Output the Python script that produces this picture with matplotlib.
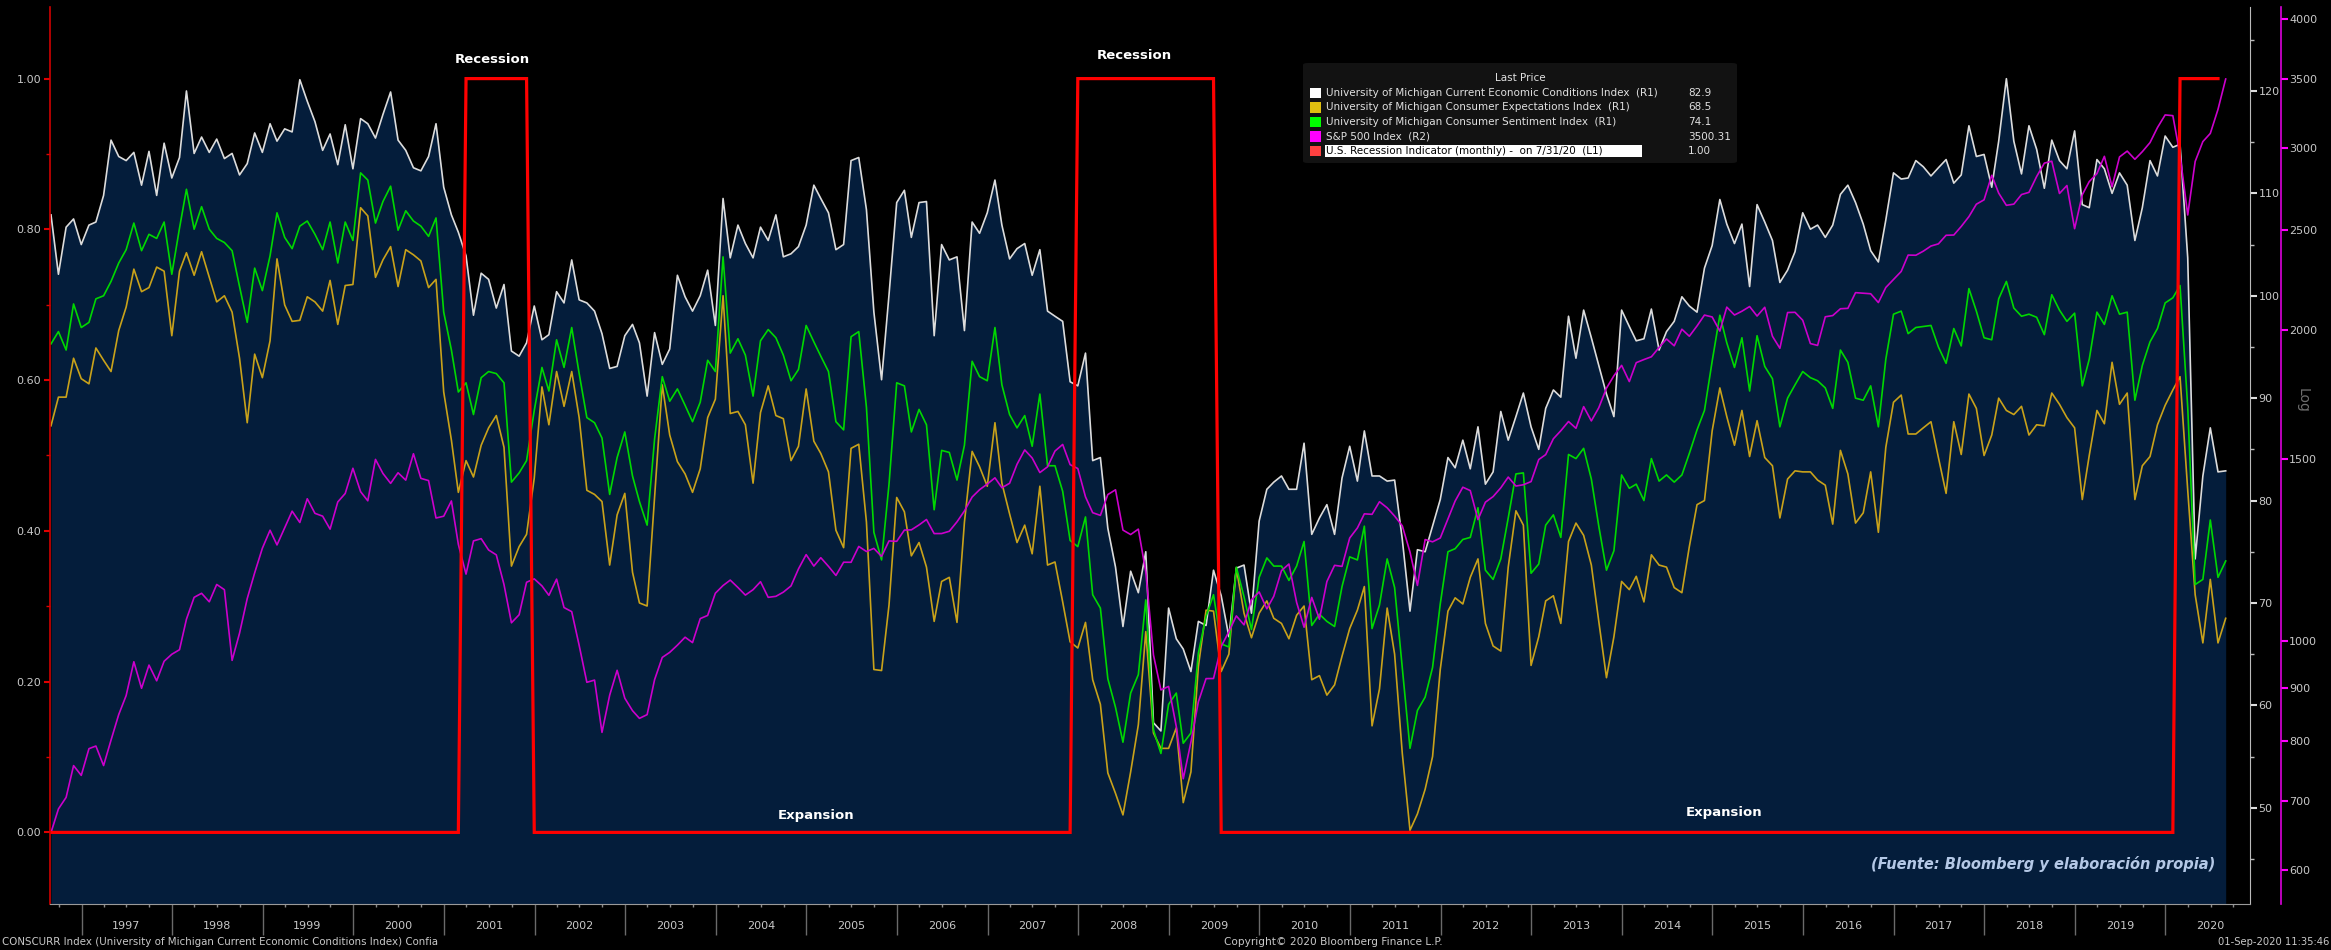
#Grafico: Indices de la Universidad de Michigan vs S&P 500 y recesiones en EEUU
#Datos mensuales (fin de mes) leidos del grafico de Bloomberg

#1. LIBRERIAS

import pandas as pd
import numpy as np
import matplotlib
matplotlib.use('Agg')
import matplotlib.pyplot as plt
import matplotlib.dates as mdates
from matplotlib.ticker import FixedLocator, FuncFormatter, NullFormatter, MultipleLocator
from matplotlib.patches import Rectangle, FancyBboxPatch

#2. DATOS

inicio = '1996-08-31'   #primer dato mensual
n_meses = 289           #hasta 2020-08-31

#University of Michigan Current Economic Conditions Index (R1) - blanco
cond_actuales = [
    107.9, 102.1, 106.7, 107.5, 105.0, 106.9, 107.2, 109.8, 115.2, 113.6, 113.2, 114.0, 110.8, 114.1, 109.8,
    114.9, 111.5, 113.5, 120.0, 113.9, 115.5, 114.0, 115.3, 113.4, 113.9, 111.8, 112.9, 115.9, 114.0, 116.8,
    115.1, 116.3, 116.0, 121.1, 119.0, 117.0, 114.2,
    115.8, 112.8, 116.7, 112.4, 117.3, 116.8, 115.4, 117.7, 119.9, 115.2, 114.2, 112.5, 112.2, 113.6, 116.8,
    110.6, 107.9, 106.2, 103.9, 98.1, 102.2, 101.6, 98.8, 101.1, 94.6, 94.1, 95.4, 99.0, 95.7, 96.2,
    100.4, 99.3, 103.5, 99.6, 99.3, 98.5, 96.3, 92.9,
    93.1, 96.1, 97.2, 95.4, 90.2, 96.4, 93.3, 94.8, 102.0, 99.9, 98.5, 100.0, 102.5, 97.1, 109.5,
    103.7, 106.9, 105.1, 103.7, 106.7, 105.4, 107.9, 103.8, 104.1, 104.8, 106.9, 110.8, 109.5, 108.1, 104.5,
    105.0, 113.2, 113.5, 108.4, 98.4, 91.8,
    100.1, 109.1, 110.3, 105.7, 109.1, 109.2, 96.1, 105.0, 103.5, 103.8, 96.6, 107.2, 106.1, 108.1, 111.3,
    106.9, 103.6, 104.6, 105.1, 102.0, 104.5, 98.5, 98.0, 97.5, 91.6, 91.2, 94.4, 83.9, 84.2, 77.3,
    73.5, 67.7, 73.1, 71.0, 75.0,
    58.3, 57.5, 69.5, 66.5, 65.5, 63.3, 68.2, 67.8, 73.2, 70.7, 66.7, 73.4, 73.7, 69.0, 78.0,
    81.1, 81.8, 82.4, 81.1, 81.1, 85.6, 76.7, 78.3, 79.6, 76.7, 82.2, 85.3, 81.9, 86.8, 82.4,
    82.4, 81.9, 82.0, 76.2, 69.2, 75.2,
    75.0, 77.5, 80.1, 84.2, 83.2, 85.9, 83.1, 87.2, 81.6, 82.8, 88.7, 85.9, 88.2, 90.5, 87.2,
    85.0, 89.0, 90.8, 90.1, 98.0, 93.9, 98.6, 95.9, 93.2, 90.4, 88.2, 98.6, 97.0, 95.6, 95.8,
    98.7, 94.7, 96.5, 97.5, 99.9,
    99.0, 98.4, 102.7, 104.9, 109.4, 107.0, 105.1, 107.0, 100.9, 108.9, 107.2, 105.4, 101.3, 102.5, 104.3,
    108.1, 106.5, 106.9, 105.7, 106.9, 109.9, 110.8, 109.1, 107.0, 104.4, 103.3, 107.4, 112.0, 111.4, 111.5,
    113.2, 112.6, 111.7, 112.5,
    113.3, 111.0, 111.8, 116.6, 113.6, 113.8, 110.6, 115.1, 121.2, 115.1, 111.9, 116.6, 114.3, 110.5, 115.2,
    113.2, 112.4, 116.1, 108.9, 108.6, 113.3, 112.4, 110.0, 112.0, 110.8, 105.4, 108.6, 113.2, 111.7, 115.6,
    114.5, 114.8, 103.7, 74.3, 82.4, 87.1, 82.8, 82.9]

#University of Michigan Consumer Expectations Index (R1) - amarillo
expectativas = [
    87.3, 90.1, 90.1, 93.9, 91.9, 91.4, 94.9, 93.7, 92.6, 96.6, 98.9, 102.6, 100.4, 100.8, 102.8,
    102.4, 96.1, 102.4, 104.2, 102.0, 104.3, 101.8, 99.4, 100.0, 98.4, 93.9, 87.6, 94.3, 92.0, 95.6,
    103.6, 99.1, 97.5, 97.6, 99.9, 99.4, 98.5,
    101.5, 97.2, 101.0, 101.1, 108.6, 107.8, 101.8, 103.5, 104.8, 100.9, 104.5, 104.0, 103.4, 100.8, 101.6,
    90.6, 85.9, 80.8, 83.9, 82.3, 85.4, 87.1, 88.3, 85.2, 73.6, 75.5, 76.7, 82.2, 91.1, 87.4,
    92.6, 89.2, 92.6, 88.1, 81.0, 80.6, 79.9, 73.7,
    78.6, 80.7, 73.0, 70.0, 69.7, 80.4, 91.3, 86.4, 83.8, 82.6, 80.8, 83.1, 88.1, 89.9, 100.0,
    88.5, 88.7, 87.4, 81.7, 88.6, 91.2, 88.3, 88.0, 83.9, 85.3, 90.9, 85.8, 84.6, 82.8, 77.1,
    75.4, 85.1, 85.5, 77.9, 63.5, 63.4,
    69.8, 80.3, 78.9, 74.6, 75.9, 73.5, 68.2, 72.1, 72.5, 68.1, 77.9, 84.8, 83.3, 81.4, 87.6,
    81.7, 78.7, 75.9, 77.6, 74.8, 81.4, 73.7, 74.0, 70.1, 66.2, 65.6, 68.1, 62.5, 60.1, 53.4,
    51.4, 49.3, 53.5, 58.1, 67.2,
    57.3, 55.8, 55.8, 57.8, 50.5, 53.5, 63.8, 69.3, 69.2, 63.3, 65.0, 73.4, 69.0, 66.6, 69.0,
    70.2, 68.5, 68.0, 66.5, 68.8, 69.7, 62.5, 62.9, 61.0, 62.0, 64.8, 67.5, 69.3, 71.6, 58.0,
    61.6, 69.5, 65.0, 55.3, 47.8, 49.4,
    51.8, 55.0, 63.5, 69.2, 70.5, 69.9, 72.5, 74.3, 68.0, 65.8, 65.3, 73.5, 79.0, 77.6, 63.9,
    66.7, 70.2, 70.7, 68.0, 76.0, 77.8, 76.6, 73.7, 68.2, 62.7, 66.7, 72.1, 71.3, 72.6, 70.1,
    74.7, 73.7, 73.5, 71.5, 71.0,
    75.5, 79.6, 80.0, 86.8, 91.0, 88.2, 85.4, 88.8, 84.3, 87.8, 84.2, 83.4, 78.3, 82.1, 82.9,
    82.8, 82.8, 82.0, 81.5, 77.7, 84.9, 82.6, 77.8, 78.8, 82.8, 76.9, 85.2, 89.6, 90.3, 86.5,
    86.5, 87.1, 87.7, 84.2,
    80.7, 87.7, 84.5, 90.4, 89.0, 84.4, 86.4, 90.0, 88.8, 88.4, 89.2, 86.4, 87.4, 87.3, 90.5,
    89.4, 88.1, 87.1, 80.1, 84.4, 88.8, 87.5, 93.5, 89.4, 90.5, 80.1, 83.4, 84.3, 87.4, 89.3,
    90.8, 92.1, 81.0, 70.8, 66.1, 72.3, 66.1, 68.5]

#University of Michigan Consumer Sentiment Index (R1) - verde
sentimiento = [
    95.3, 96.5, 94.7, 99.2, 96.9,
    97.4, 99.7, 100.0, 101.4, 103.2, 104.5, 107.1, 104.4, 106.0, 105.6, 107.2, 102.1,
    106.6, 110.4, 106.5, 108.7, 106.5, 105.6, 105.2, 104.4, 100.9, 97.4, 102.7, 100.5,
    103.9, 108.1, 105.7, 104.6, 106.8, 107.3, 106.0, 104.5, 107.2, 103.2, 107.2, 105.4,
    112.0, 111.3, 107.1, 109.2, 110.7, 106.4, 108.3, 107.3, 106.8, 105.8, 107.6, 98.4,
    94.7, 90.6, 91.5, 88.4, 92.0, 92.6, 92.4, 91.5, 81.8, 82.7, 83.9, 88.8,
    93.0, 90.7, 95.7, 93.0, 96.9, 92.4, 88.1, 87.6, 86.1, 80.6, 84.2, 86.7,
    82.4, 79.9, 77.6, 86.0, 92.1, 89.7, 90.9, 89.3, 87.7, 89.6, 93.7, 92.6,
    103.8, 94.4, 95.8, 94.2, 90.2, 95.6, 96.7, 95.9, 94.2, 91.7, 92.8, 97.1,
    95.5, 94.1, 92.6, 87.7, 86.9, 96.0, 96.5, 89.1, 76.9, 74.2, 81.6, 91.5,
    91.2, 86.7, 88.9, 87.4, 79.1, 84.9, 84.7, 82.0, 85.4, 93.6, 92.1, 91.7,
    96.9, 91.3, 88.4, 87.1, 88.3, 85.3, 90.4, 83.4, 83.4, 80.9, 76.1, 75.5,
    78.4, 70.8, 69.5, 62.6, 59.8, 56.4, 61.2, 63.0, 70.3, 57.6, 55.3, 60.1,
    61.2, 56.3, 57.3, 65.1, 68.7, 70.8, 66.0, 65.7, 73.5, 70.6, 67.4, 72.5,
    74.4, 73.6, 73.6, 72.2, 73.6, 76.0, 67.8, 68.9, 68.2, 67.7, 71.6, 74.5,
    74.2, 77.5, 67.5, 69.8, 74.3, 71.5, 63.7, 55.8, 59.5, 60.8, 63.7, 69.9,
    75.0, 75.3, 76.2, 76.4, 79.3, 73.2, 72.3, 74.3, 78.3, 82.6, 82.7, 72.9,
    73.8, 77.6, 78.6, 76.4, 84.5, 84.1, 85.1, 82.1, 77.5, 73.2, 75.1, 82.5,
    81.2, 81.6, 80.0, 84.1, 81.9, 82.5, 81.8, 82.5, 84.6, 86.9, 88.8, 93.6,
    98.1, 95.4, 93.0, 95.9, 90.7, 96.1, 93.1, 91.9, 87.2, 90.0, 91.3, 92.6,
    92.0, 91.7, 91.0, 89.0, 94.7, 93.5, 90.0, 89.8, 91.2, 87.2, 93.8, 98.2,
    98.5, 96.3, 96.9, 97.0, 97.1, 95.0, 93.4, 96.8, 95.1, 100.7, 98.5, 95.9,
    95.7, 99.7, 101.4, 98.8, 98.0, 98.2, 97.9, 96.2, 100.1, 98.6, 97.5, 98.3,
    91.2, 93.8, 98.4, 97.2, 100.0, 98.2, 98.4, 89.8, 93.2, 95.5, 96.8, 99.3,
    99.8, 101.0, 89.1, 71.8, 72.3, 78.1, 72.5, 74.1]

#S&P 500 Index (R2, escala log) - magenta
sp500 = [
    651.99, 687.33, 705.27, 757.02, 740.74,
    786.16, 790.82, 757.12, 801.34, 848.28, 885.14, 954.31, 899.47, 947.28, 914.62, 955.40, 970.43,
    980.28, 1049.34, 1101.75, 1111.75, 1090.82, 1133.84, 1120.67, 957.28, 1017.01, 1098.67, 1163.63, 1229.23,
    1279.64, 1238.33, 1286.37, 1335.18, 1301.84, 1372.71, 1328.72, 1320.41, 1282.71, 1362.93, 1388.91, 1469.25,
    1394.46, 1366.42, 1498.58, 1452.43, 1420.60, 1454.60, 1430.83, 1517.68, 1436.51, 1429.40, 1314.95, 1320.28,
    1366.01, 1239.94, 1160.33, 1249.46, 1255.82, 1224.42, 1211.23, 1133.58, 1040.94, 1059.78, 1139.45, 1148.08,
    1130.20, 1106.73, 1147.39, 1076.92, 1067.14, 989.82, 911.62, 916.07, 815.28, 885.76, 936.31, 879.82,
    855.70, 841.15, 848.18, 916.92, 963.59, 974.50, 990.31, 1008.01, 995.97, 1050.71, 1058.20, 1111.92,
    1131.13, 1144.94, 1126.21, 1107.30, 1120.68, 1140.84, 1101.72, 1104.24, 1114.58, 1130.20, 1173.82, 1211.92,
    1181.27, 1203.60, 1180.59, 1156.85, 1191.50, 1191.33, 1234.18, 1220.33, 1228.81, 1207.01, 1249.48, 1248.29,
    1280.08, 1280.66, 1294.83, 1310.61, 1270.09, 1270.20, 1276.66, 1303.82, 1335.85, 1377.94, 1400.63, 1418.30,
    1438.24, 1406.82, 1420.86, 1482.37, 1530.62, 1503.35, 1455.27, 1473.99, 1526.75, 1549.38, 1481.14, 1468.36,
    1378.55, 1330.63, 1322.70, 1385.59, 1400.38, 1280.00, 1267.38, 1282.83, 1166.36, 968.75, 896.24, 903.25,
    825.88, 735.09, 797.87, 872.81, 919.14, 919.32, 987.48, 1020.62, 1057.08, 1036.19, 1095.63, 1115.10,
    1073.87, 1104.49, 1169.43, 1186.69, 1089.41, 1030.71, 1101.60, 1049.33, 1141.20, 1183.26, 1180.55, 1257.64,
    1286.12, 1327.22, 1325.83, 1363.61, 1345.20, 1320.64, 1292.28, 1218.89, 1131.42, 1253.30, 1246.96, 1257.60,
    1312.41, 1365.68, 1408.47, 1397.91, 1310.33, 1362.16, 1379.32, 1406.58, 1440.67, 1412.16, 1416.18, 1426.19,
    1498.11, 1514.68, 1569.19, 1597.57, 1630.74, 1606.28, 1685.73, 1632.97, 1681.55, 1756.54, 1805.81, 1848.36,
    1782.59, 1859.45, 1872.34, 1883.95, 1923.57, 1960.23, 1930.67, 2003.37, 1972.29, 2018.05, 2067.56, 2058.90,
    1994.99, 2104.50, 2067.89, 2085.51, 2107.39, 2063.11, 2103.84, 1972.18, 1920.03, 2079.36, 2080.41, 2043.94,
    1940.24, 1932.23, 2059.74, 2065.30, 2096.95, 2098.86, 2173.60, 2170.95, 2168.27, 2126.15, 2198.81, 2238.83,
    2278.87, 2363.64, 2362.72, 2384.20, 2411.80, 2423.41, 2470.30, 2471.65, 2519.36, 2575.26, 2647.58, 2673.61,
    2823.81, 2713.83, 2640.87, 2648.05, 2705.27, 2718.37, 2816.29, 2901.52, 2913.98, 2711.74, 2760.17, 2506.85,
    2704.10, 2784.49, 2834.40, 2945.83, 2752.06, 2941.76, 2980.38, 2926.46, 2976.74, 3037.56, 3140.98, 3230.78,
    3225.52, 2954.22, 2584.59, 2912.43, 3044.31, 3100.29, 3271.12, 3500.31]

#U.S. Recession Indicator (L1): meses en recesion (inicio, fin)
recesiones = [('2001-03-31', '2001-11-30'), ('2007-12-31', '2009-06-30'), ('2020-02-29', '2020-07-31')]
fin_recesion = '2020-07-31'   #ultimo dato del indicador

#leyenda
nombres = ['University of Michigan Current Economic Conditions Index  (R1)',
           'University of Michigan Consumer Expectations Index  (R1)',
           'University of Michigan Consumer Sentiment Index  (R1)',
           'S&P 500 Index  (R2)',
           'U.S. Recession Indicator (monthly) -  on 7/31/20  (L1)']
ultimos = ['82.9', '68.5', '74.1', '3500.31', '1.00']

#3. SERIES DE TIEMPO

fechas = pd.date_range(inicio, periods=n_meses, freq='ME')
fechas_rec = pd.date_range(inicio, fin_recesion, freq='ME')
rec = np.zeros(len(fechas_rec))
for a, b in recesiones:
    rec[(fechas_rec >= pd.Timestamp(a)) & (fechas_rec <= pd.Timestamp(b))] = 1.0

#4. GRAFICO

W, H = 2331, 950
fondo = 'black'
navy = '#041d3b'
gris = '#c8c8c8'
c_blanco = '#dcdcdc'
c_amarillo = '#c9a21a'
c_verde = '#00d800'
c_magenta = '#cc00cc'
c_rojo = '#ff0000'

fig = plt.figure(figsize=(W/100, H/100), dpi=100, facecolor=fondo)
ax = fig.add_axes([50/W, 1-904/H, 2200/W, 897/H])   #eje izquierdo (L1)
ax1 = ax.twinx()    #R1
ax2 = ax.twinx()    #R2 (log)

#el eje izquierdo encima para que la linea roja quede arriba
ax1.set_zorder(1)
ax2.set_zorder(2)
ax.set_zorder(3)
for a in (ax, ax1, ax2):
    a.patch.set_visible(False)

#R1: area bajo el indice de condiciones actuales y lineas
ax1.set_ylim(40.6, 128.2)
ax1.fill_between(fechas, cond_actuales, 40.6, color=navy, lw=0)
ax1.plot(fechas, cond_actuales, color=c_blanco, lw=1.2)
ax1.plot(fechas, expectativas, color=c_amarillo, lw=1.2)
ax1.plot(fechas, sentimiento, color=c_verde, lw=1.2)

#R2: S&P 500
ax2.set_yscale('log')
ax2.set_ylim(556, 4110)
ax2.plot(fechas, sp500, color=c_magenta, lw=1.2)

#L1: recesiones
ax.set_ylim(-0.095, 1.095)
ax.plot(fechas_rec, rec, color=c_rojo, lw=2.3, solid_joinstyle='miter')
ax.set_xlim(pd.Timestamp('1996-08-27'), pd.Timestamp('2020-12-07'))

#ejes y ticks
for a in (ax, ax1, ax2):
    for s in a.spines.values():
        s.set_visible(False)

ax.spines['left'].set_visible(True)
ax.spines['left'].set_color('#d00000')
ax.spines['left'].set_linewidth(1.2)
ax.spines['bottom'].set_visible(True)
ax.spines['bottom'].set_color('#9a9a9a')
ax.yaxis.set_major_locator(MultipleLocator(0.2))
ax.yaxis.set_minor_locator(MultipleLocator(0.1))
ax.yaxis.set_major_formatter(FuncFormatter(lambda v, p: '%.2f' % v))
ax.tick_params(axis='y', which='major', colors='#e00000', labelcolor=gris, length=4.5, width=1.5, pad=2, labelsize=8)
ax.tick_params(axis='y', which='minor', colors='#e00000', length=3, width=1)

ax1.spines['right'].set_visible(True)
ax1.spines['right'].set_color('#bbbbbb')
ax1.yaxis.set_major_locator(MultipleLocator(10))
ax1.yaxis.set_minor_locator(MultipleLocator(5))
ax1.tick_params(axis='y', which='major', colors='#dddddd', labelcolor=gris, length=5, width=1.5, pad=1, labelsize=8)
ax1.tick_params(axis='y', which='minor', colors='#bbbbbb', length=3, width=1)

ax2.spines['right'].set_visible(True)
ax2.spines['right'].set_position(('outward', 22.3))
ax2.spines['right'].set_color('#dd00dd')
ax2.spines['right'].set_linewidth(1.2)
ax2.yaxis.set_major_locator(FixedLocator([600, 700, 800, 900, 1000, 1500, 2000, 2500, 3000, 3500, 4000]))
ax2.yaxis.set_minor_locator(FixedLocator([]))
ax2.yaxis.set_major_formatter(FuncFormatter(lambda v, p: '%d' % v))
ax2.yaxis.set_minor_formatter(NullFormatter())
ax2.tick_params(axis='y', which='major', colors='#ff00ff', labelcolor=gris, length=5, width=1.5, pad=1, labelsize=8)

#eje x: años centrados entre las marcas de inicio de año
ax.xaxis.set_major_locator(mdates.YearLocator())
ax.xaxis.set_major_formatter(NullFormatter())
ax.xaxis.set_minor_locator(mdates.MonthLocator(bymonth=[4, 7, 10]))
ax.xaxis.set_minor_formatter(FuncFormatter(
    lambda x, p: str(mdates.num2date(x).year) if mdates.num2date(x).month == 7 else ''))
ax.tick_params(axis='x', which='major', colors='#6a6a6a', length=22, width=1)
ax.tick_params(axis='x', which='minor', colors='#8a8a8a', labelcolor=gris, length=2.5, width=1, pad=10, labelsize=8)

#5. TEXTOS

ax.text(pd.Timestamp('2001-07-15'), 1.026, 'Recession', color='white', fontsize=9.5,
        fontweight='bold', ha='center', va='center')
ax.text(pd.Timestamp('2008-08-13'), 1.030, 'Recession', color='white', fontsize=9.5,
        fontweight='bold', ha='center', va='center')
ax.text(pd.Timestamp('2005-02-08'), 0.023, 'Expansion', color='white', fontsize=9.5,
        fontweight='bold', ha='center', va='center')
ax.text(pd.Timestamp('2015-02-16'), 0.026, 'Expansion', color='white', fontsize=9.5,
        fontweight='bold', ha='center', va='center')

fig.text(2215/W, 1-864/H, '(Fuente: Bloomberg y elaboración propia)', color='#b4c8e6',
         fontsize=10.5, fontweight='bold', fontstyle='italic', ha='right', va='center')

fig.text(2303/W, 1-400/H, 'Log', color='#6e6e6e', fontsize=10, rotation=270, ha='center', va='center')

fig.text(2/W, 1-942/H, 'CONSCURR Index (University of Michigan Current Economic Conditions Index) Confia',
         color=gris, fontsize=7.4, ha='left', va='center')
fig.text(1333/W, 1-942/H, 'Copyright\u00a9 2020 Bloomberg Finance L.P.', color=gris, fontsize=7.6,
         ha='center', va='center')
fig.text(2329/W, 1-942/H, '01-Sep-2020 11:35:46', color=gris, fontsize=7.2, ha='right', va='center')

#6. LEYENDA (cuadro de Bloomberg)

fig.patches.append(FancyBboxPatch((1303/W, 1-163/H), 434/W, 100/H, boxstyle='round,pad=0,rounding_size=0.002',
                                  transform=fig.transFigure, facecolor='#121212', edgecolor='none', zorder=5))
fig.text(1520/W, 1-78/H, 'Last Price', color='#e0e0e0', fontsize=7.5, ha='center', va='center', zorder=6)
colores_ley = ['#ffffff', '#e0c010', '#00ff00', '#ff00ff', '#ff4040']
for k in range(5):
    yk = 93 + 14.5*k
    fig.patches.append(Rectangle((1310/W, 1-(yk+5)/H), 11/W, 10/H, transform=fig.transFigure,
                                 facecolor=colores_ley[k], edgecolor='none', zorder=6))
    if k == 4:
        fig.patches.append(Rectangle((1325/W, 1-(yk+6)/H), 317/W, 12/H, transform=fig.transFigure,
                                     facecolor='white', edgecolor='none', zorder=6))
        tc = 'black'
    else:
        tc = '#e0e0e0'
    fig.text(1326/W, 1-yk/H, nombres[k], color=tc, fontsize=7.5, ha='left', va='center', zorder=7)
    fig.text(1688/W, 1-yk/H, ultimos[k], color='#e0e0e0', fontsize=7.5, ha='left', va='center', zorder=7)

fig.savefig('out.png', dpi=100, facecolor=fondo)
